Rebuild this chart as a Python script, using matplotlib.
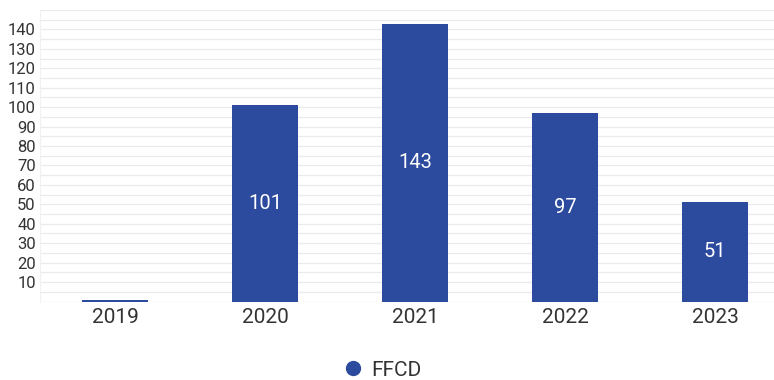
import matplotlib
matplotlib.use("Agg")
import matplotlib.pyplot as plt
from matplotlib.lines import Line2D

plt.rcParams['font.family'] = ['Roboto', 'DejaVu Sans']

years = ["2019", "2020", "2021", "2022", "2023"]
ffcd = [1, 101, 143, 97, 51]
labels = ["", "101", "143", "97", "51"]
y_ticks = [10, 20, 30, 40, 50, 60, 70, 80, 90, 100, 110, 120, 130, 140]

bar_color = "#2c4b9e"
text_color = "#333333"
grid_color = "#ebebeb"

fig = plt.figure(figsize=(7.74, 3.80), dpi=100)
ax = fig.add_axes([40 / 774, 78.5 / 380, 734 / 774, (301.5 - 10) / 380])

x = list(range(len(years)))
bars = ax.bar(x, ffcd, width=0.44, color=bar_color, zorder=3)

for rect, lab in zip(bars, labels):
    if lab:
        ax.text(rect.get_x() + rect.get_width() / 2, rect.get_height() / 2, lab,
                ha="center", va="center", color="white", fontsize=14.5)

ax.set_xlim(-0.5, (774 - 115) / 150)
ax.set_ylim(0, 150)

# horizontal grid every 5 units
for v in range(5, 151, 5):
    ax.axhline(v, color=grid_color, lw=0.9, zorder=0)
ax.axhline(0, color="#e4e4e4", lw=0.9, zorder=1)

ax.set_yticks(y_ticks)
ax.set_yticklabels([str(t) for t in y_ticks], fontsize=12, color=text_color)
ax.set_xticks(x)
ax.set_xticklabels(years, fontsize=15, color=text_color)
ax.tick_params(axis="both", length=0)
ax.tick_params(axis="y", pad=3)
ax.tick_params(axis="x", pad=5)

for s in ["top", "right", "bottom"]:
    ax.spines[s].set_visible(False)
ax.spines["left"].set_color("#f0f0f0")

handle = Line2D([], [], marker="o", linestyle="none", markersize=10,
                markerfacecolor=bar_color, markeredgecolor=bar_color)
fig.legend([handle], ["FFCD"], loc="center", bbox_to_anchor=(382 / 774, 1 - 370 / 380),
           frameon=False, fontsize=15, handletextpad=0.35, labelcolor=text_color,
           handlelength=1.0)

fig.savefig("out.png", dpi=100)
